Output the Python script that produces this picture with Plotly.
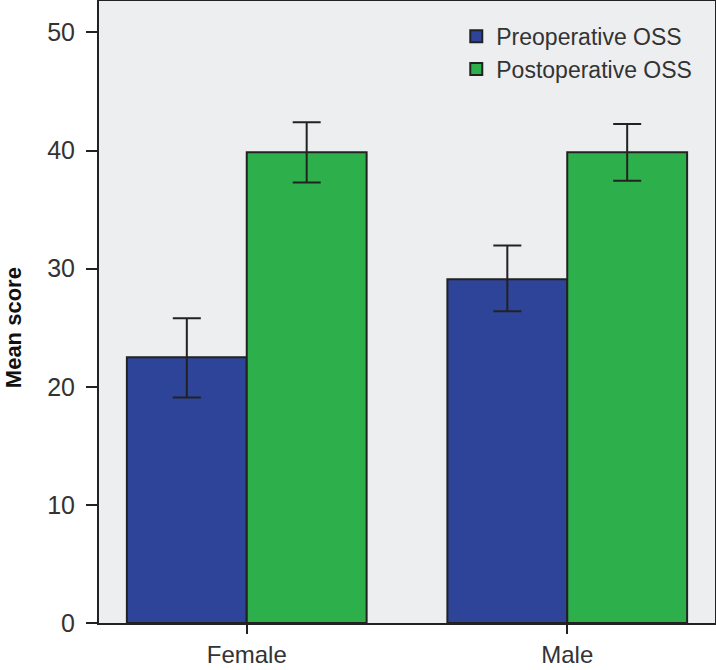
import plotly.graph_objects as go

categories = ["Female", "Male"]
pre_values = [22.5, 29.1]
pre_err_plus = [3.3, 2.85]
pre_err_minus = [3.4, 2.7]
post_values = [39.85, 39.85]
post_err_plus = [2.55, 2.4]
post_err_minus = [2.55, 2.4]
y_ticks = [0, 10, 20, 30, 40, 50]

BLUE = "#2E4499"
GREEN = "#2DB04B"
DARK = "#222222"
TEXT = "#333333"
FONT = "Liberation Sans, Arial, sans-serif"

fig = go.Figure()
fig.add_trace(go.Bar(
    name="Preoperative OSS", x=categories, y=pre_values,
    marker=dict(color=BLUE, line=dict(color=DARK, width=2)),
    error_y=dict(type="data", symmetric=False, array=pre_err_plus,
                 arrayminus=pre_err_minus, color=DARK, thickness=2, width=14),
))
fig.add_trace(go.Bar(
    name="Postoperative OSS", x=categories, y=post_values,
    marker=dict(color=GREEN, line=dict(color=DARK, width=2)),
    error_y=dict(type="data", symmetric=False, array=post_err_plus,
                 arrayminus=post_err_minus, color=DARK, thickness=2, width=14),
))

fig.update_layout(
    width=716, height=670,
    margin=dict(l=99, r=1, t=1, b=47, autoexpand=False),
    paper_bgcolor="white",
    plot_bgcolor="#EDEEF0",
    barmode="group", bargap=0.252, bargroupgap=0,
    font=dict(family=FONT, color=TEXT, size=24),
    showlegend=True,
    legend=dict(x=0.58, y=0.978, xanchor="left", yanchor="top",
                bgcolor="rgba(0,0,0,0)", font=dict(size=23, color=TEXT),
                itemwidth=30, tracegroupgap=0),
    xaxis=dict(range=[-0.461, 1.461], showline=True, linecolor=DARK, linewidth=2,
               mirror=True, ticks="outside", ticklen=9, tickwidth=2, tickcolor=DARK,
               showgrid=False, zeroline=False, tickfont=dict(size=24)),
    yaxis=dict(range=[0, 52.66], tickvals=y_ticks, showline=True, linecolor=DARK,
               linewidth=2, mirror=True, ticks="outside", ticklen=11, tickwidth=2,
               tickcolor=DARK, showgrid=False, zeroline=False,
               tickfont=dict(size=25), ticklabelstandoff=6),
    annotations=[dict(text="<b>Mean score</b>", xref="paper", yref="paper",
                      x=-0.1396, y=0.474, xanchor="center", yanchor="middle",
                      textangle=-90, showarrow=False,
                      font=dict(family=FONT, size=22, color="#111111"))],
)

fig.write_html("out.html", config={"displayModeBar": False},
               post_script="document.body.style.margin='0px';document.body.style.padding='0px';")
